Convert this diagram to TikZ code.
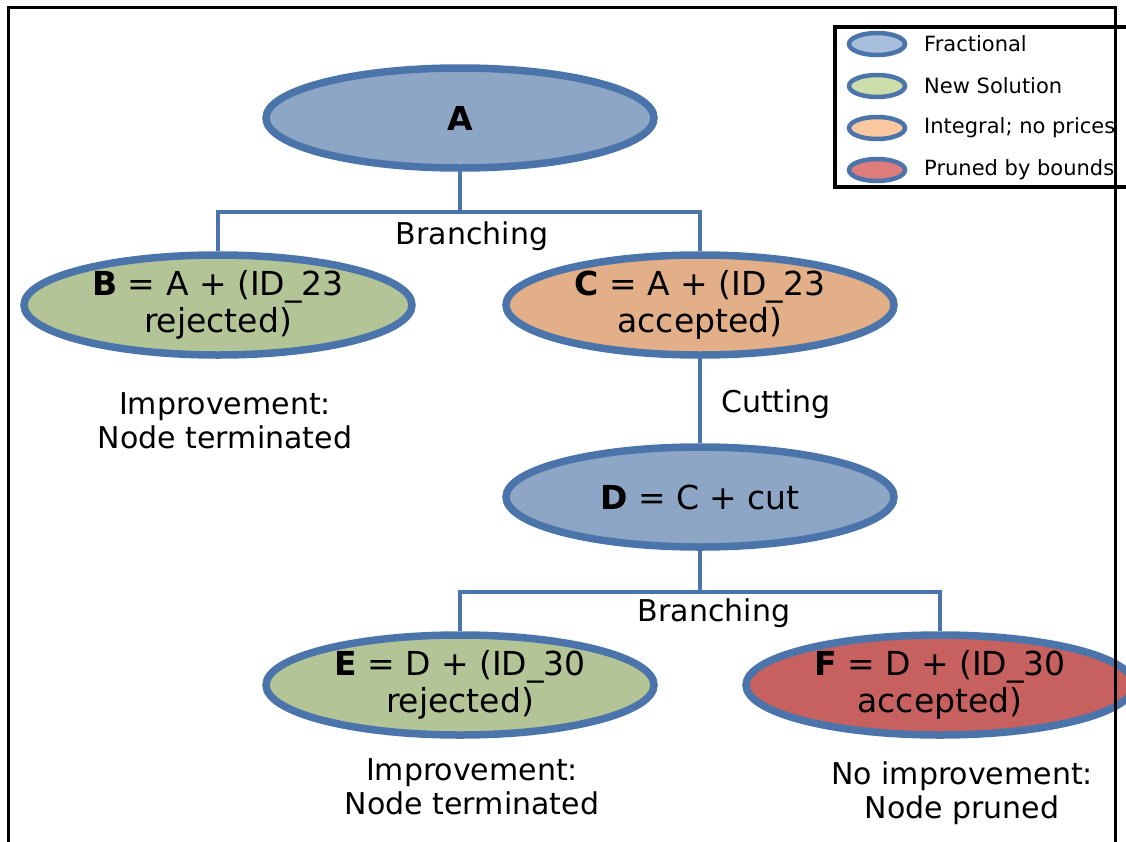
\documentclass[tikz,border=0pt]{standalone}
\usepackage{fontspec}
\setmainfont{DejaVu Sans}
\usetikzlibrary{shapes.geometric}
\definecolor{bordc}{HTML}{4A74AA}
\definecolor{fracc}{HTML}{8EA6C6}
\definecolor{solc}{HTML}{B3C496}
\definecolor{intc}{HTML}{E2AF88}
\definecolor{prunc}{HTML}{C6615F}
\definecolor{fracl}{HTML}{A7BEDD}
\definecolor{soll}{HTML}{CCDDAA}
\definecolor{intl}{HTML}{F9C8A0}
\definecolor{prunl}{HTML}{DE7C7B}
\tikzset{
  tnode/.style={ellipse, draw=bordc, line width=7.5pt, minimum width=388pt, minimum height=100pt, inner sep=0pt, align=center, font=\fontsize{33}{36}\selectfont},
  conn/.style={draw=bordc, line width=4.5pt},
  note/.style={align=center, font=\fontsize{30}{34}\selectfont},
  lell/.style={ellipse, draw=bordc, line width=4.5pt, minimum width=56pt, minimum height=22pt, inner sep=0pt},
  ltext/.style={anchor=west, font=\fontsize{21}{24}\selectfont, inner sep=0pt}
}
\begin{document}
\begin{tikzpicture}[x=1pt,y=-1pt]
\useasboundingbox (0,0) rectangle (1126,841);
\clip (0,0) rectangle (1126,841);
% tree nodes
\node[tnode, fill=fracc] (A) at (460,118) {\textbf{A}};
\node[tnode, fill=solc] (B) at (218,305) {\textbf{B} = A + (ID\_23\\[1pt]rejected)};
\node[tnode, fill=intc] (C) at (700,305) {\textbf{C} = A + (ID\_23\\[1pt]accepted)};
\node[tnode, fill=fracc] (D) at (700,497) {\textbf{D} = C + cut};
\node[tnode, fill=solc] (E) at (460,685) {\textbf{E} = D + (ID\_30\\[1pt]rejected)};
\node[tnode, fill=prunc] (F) at (940,685) {\textbf{F} = D + (ID\_30\\[1pt]accepted)};
% connectors
\coordinate (j1) at (460,212);
\coordinate (j2) at (700,592);
\draw[conn] (A.south) -- (j1);
\draw[conn] (B.north) -- (B.north |- j1) -- (C.north |- j1) -- (C.north);
\draw[conn] (C.south) -- (D.north);
\draw[conn] (D.south) -- (j2);
\draw[conn] (E.north) -- (E.north |- j2) -- (F.north |- j2) -- (F.north);
% labels
\node[note] (br1) at (472,236) {Branching};
\node[note] (cut) at (776,404) {Cutting};
\node[note] (br2) at (714,613) {Branching};
\node[note] (nb) at (225,421) {Improvement:\\Node terminated};
\node[note] (ne) at (472,787) {Improvement:\\Node terminated};
\node[note] (nf) at (962,793) {No improvement:\\Node pruned};
% legend
\draw[line width=4pt] (835,27) rectangle (1140,187);
\node[lell, fill=fracl] (l1) at (877,44) {};
\node[lell, fill=soll] (l2) at (877,86) {};
\node[lell, fill=intl] (l3) at (877,128) {};
\node[lell, fill=prunl] (l4) at (877,170) {};
\node[ltext] (t1) at (924,44) {Fractional};
\node[ltext] (t2) at (924,86) {New Solution};
\node[ltext] (t3) at (924,128) {Integral; no prices};
\node[ltext] (t4) at (924,170) {Pruned by bounds};
% frame
\draw[line width=3pt] (8,850) -- (8,7) -- (1115,7) -- (1115,850);
\end{tikzpicture}
\end{document}
